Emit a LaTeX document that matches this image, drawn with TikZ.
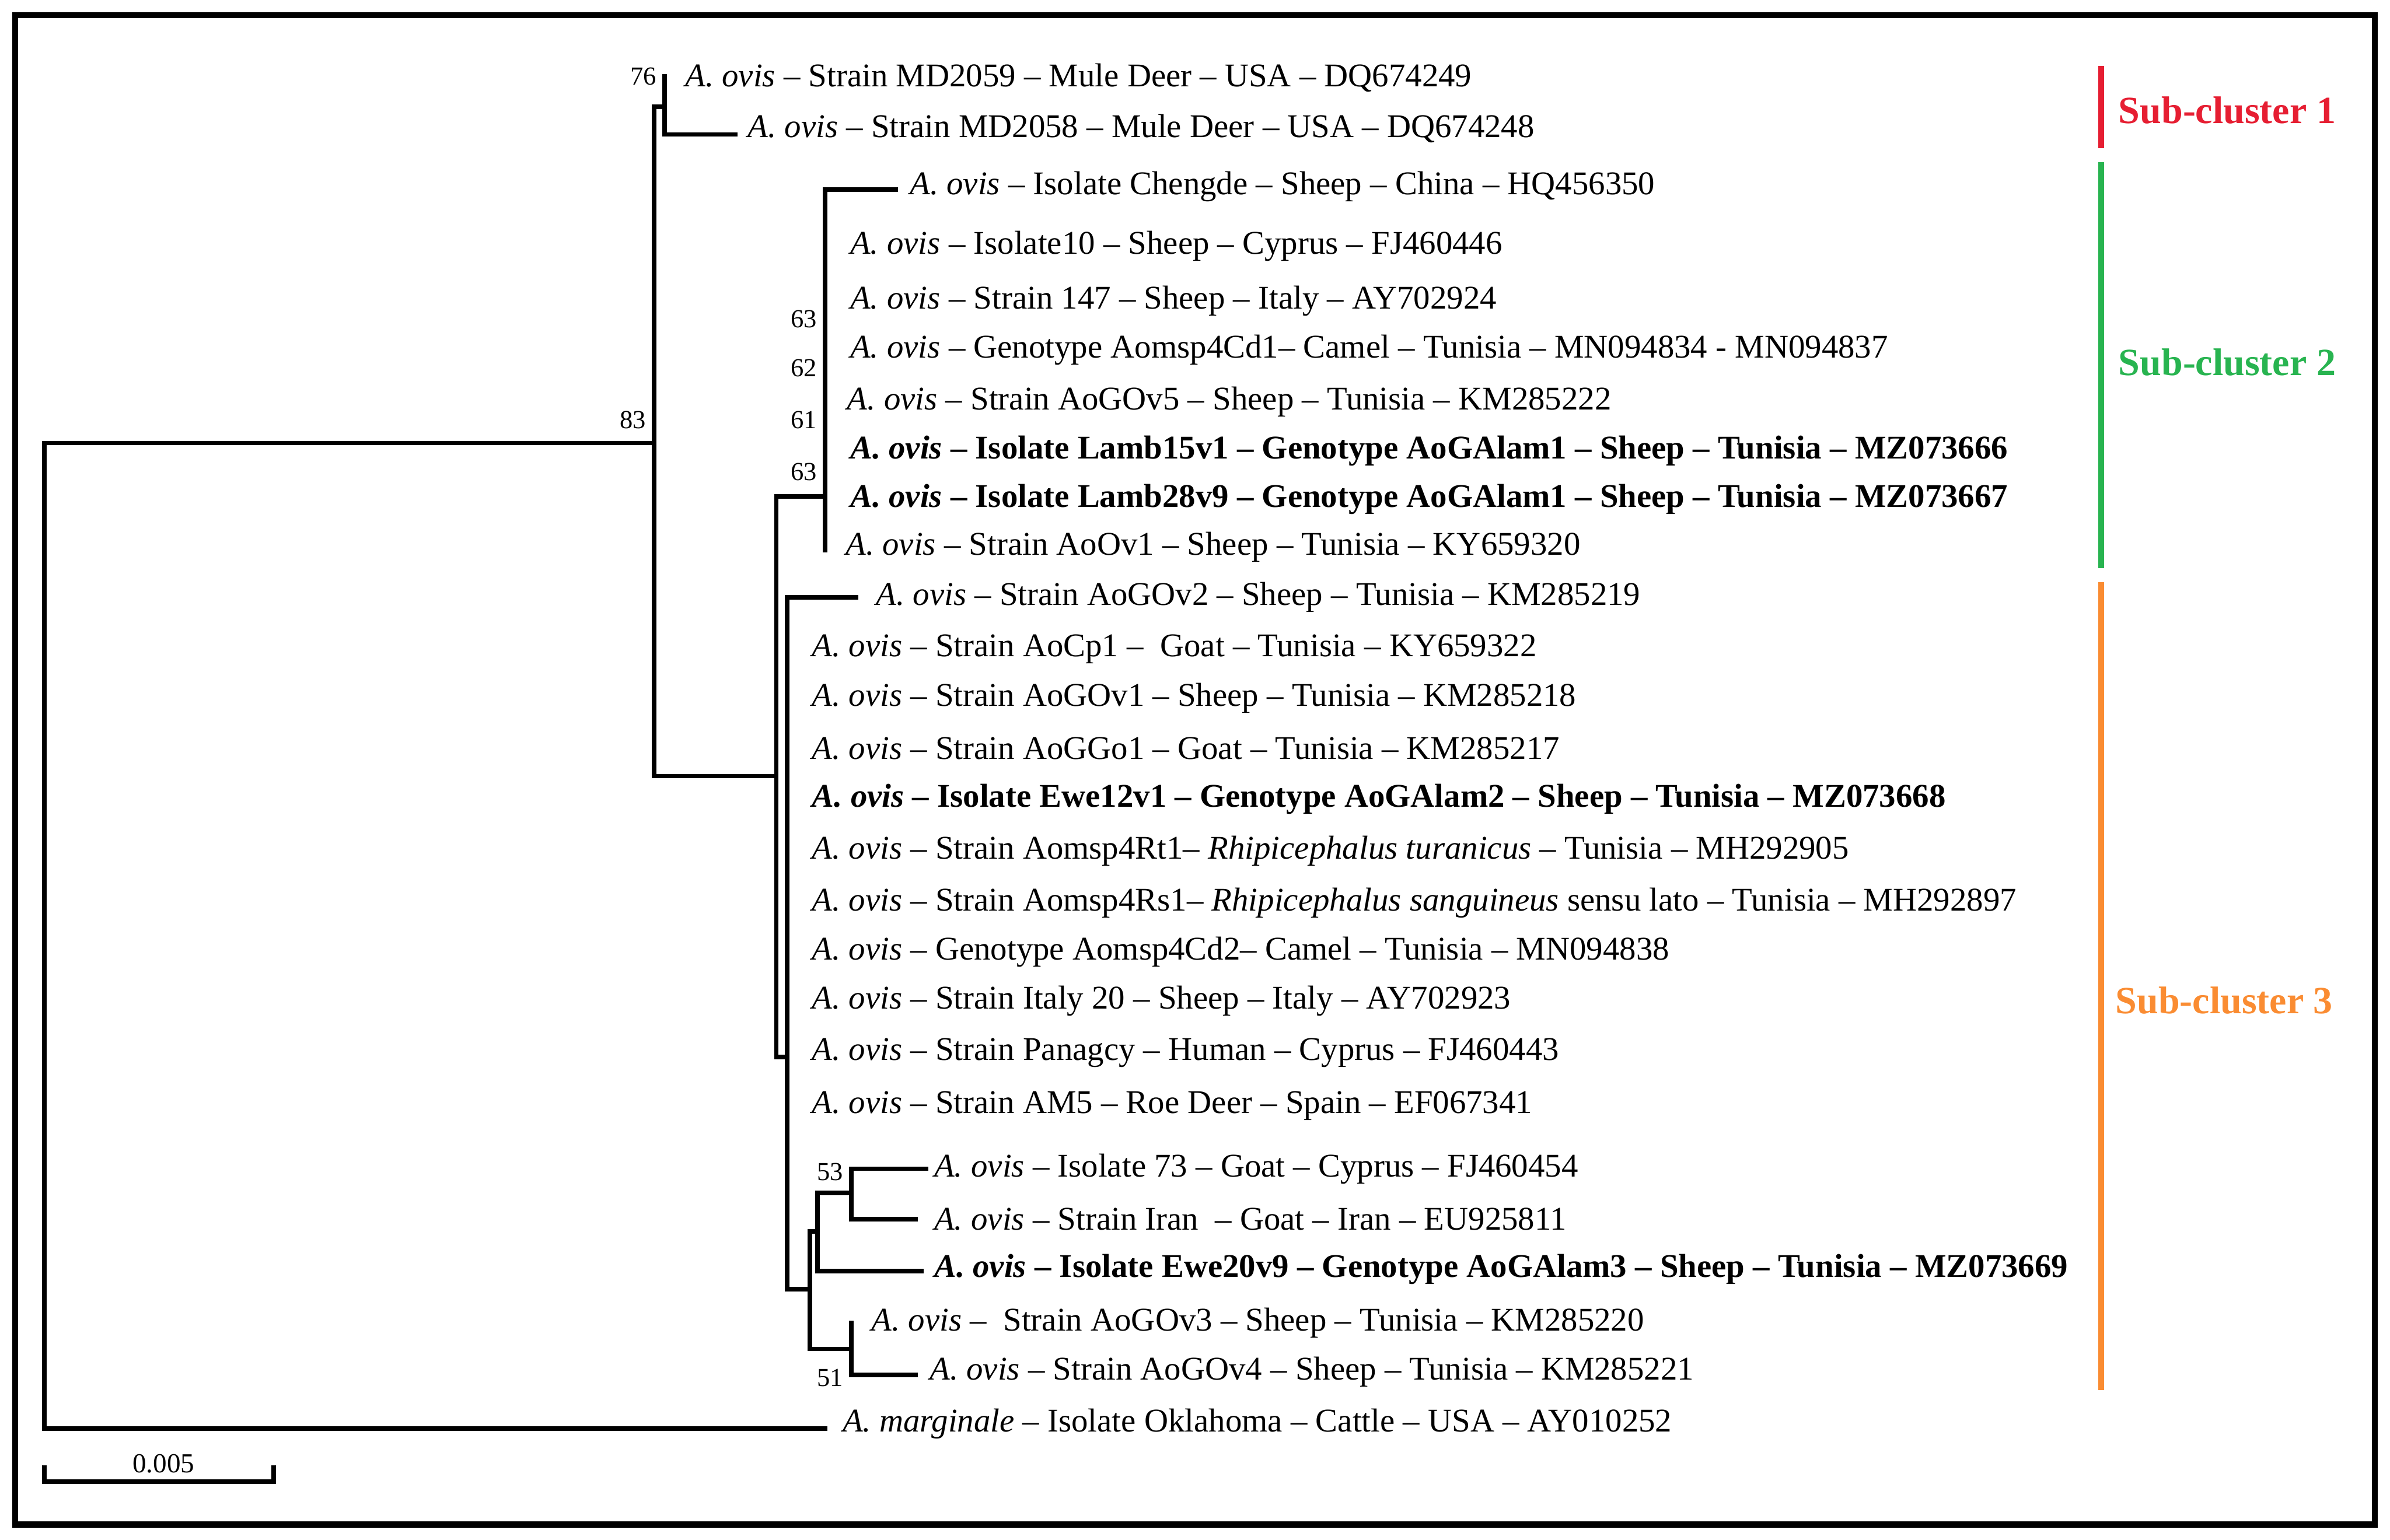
\documentclass[tikz,border=0pt]{standalone}
\usepackage{fontspec}
\setmainfont{Liberation Serif}
\definecolor{cred}{RGB}{230,30,50}
\definecolor{cgreen}{RGB}{40,180,80}
\definecolor{corange}{RGB}{250,140,50}
\newcommand{\ao}{\textit{A. ovis}}
\newcommand{\aob}{\textbf{\textit{A. ovis}}}
\begin{document}
\begin{tikzpicture}[x=0.5pt,y=-0.5pt,
  leaf/.style={anchor=west,inner sep=0pt,font=\fontsize{10.85}{12}\selectfont},
  boot/.style={anchor=east,inner sep=0pt,font=\fontsize{8.5}{10}\selectfont},
  br/.style={line width=1.5pt,line cap=rect},
  sub/.style={anchor=west,inner sep=0pt,font=\fontsize{12.6}{14}\selectfont\bfseries}]
\useasboundingbox (0,0) rectangle (1564,1008);
\draw[line width=2pt] (10,10) rectangle (1554,998);
% leaves
\node[leaf] (l1) at (448,51) {\ao{} -- Strain MD2059 -- Mule Deer -- USA -- DQ674249};
\node[leaf] (l2) at (489,84) {\ao{} -- Strain MD2058 -- Mule Deer -- USA -- DQ674248};
\node[leaf] (l3) at (595,122) {\ao{} -- Isolate Chengde -- Sheep -- China -- HQ456350};
\node[leaf] (l4) at (556,161) {\ao{} -- Isolate10 -- Sheep -- Cyprus -- FJ460446};
\node[leaf] (l5) at (556,197) {\ao{} -- Strain 147 -- Sheep -- Italy -- AY702924};
\node[leaf] (l6) at (556,229) {\ao{} -- Genotype Aomsp4Cd1-- Camel -- Tunisia -- MN094834 - MN094837};
\node[leaf] (l7) at (554,263) {\ao{} -- Strain AoGOv5 -- Sheep -- Tunisia -- KM285222};
\node[leaf] (l8) at (556,295) {\textbf{\aob{} -- Isolate Lamb15v1 -- Genotype AoGAlam1 -- Sheep -- Tunisia -- MZ073666}};
\node[leaf] (l9) at (556,327) {\textbf{\aob{} -- Isolate Lamb28v9 -- Genotype AoGAlam1 -- Sheep -- Tunisia -- MZ073667}};
\node[leaf] (l10) at (553,358) {\ao{} -- Strain AoOv1 -- Sheep -- Tunisia -- KY659320};
\node[leaf] (l11) at (573,391) {\ao{} -- Strain AoGOv2 -- Sheep -- Tunisia -- KM285219};
\node[leaf] (l12) at (531,425) {\ao{} -- Strain AoCp1 --\ \ Goat -- Tunisia -- KY659322};
\node[leaf] (l13) at (531,457) {\ao{} -- Strain AoGOv1 -- Sheep -- Tunisia -- KM285218};
\node[leaf] (l14) at (531,490) {\ao{} -- Strain AoGGo1 -- Goat -- Tunisia -- KM285217};
\node[leaf] (l15) at (531,523) {\textbf{\aob{} -- Isolate Ewe12v1 -- Genotype AoGAlam2 -- Sheep -- Tunisia -- MZ073668}};
\node[leaf] (l16) at (531,557) {\ao{} -- Strain Aomsp4Rt1-- \textit{Rhipicephalus turanicus} -- Tunisia -- MH292905};
\node[leaf] (l17) at (531,591) {\ao{} -- Strain Aomsp4Rs1-- \textit{Rhipicephalus sanguineus} sensu lato -- Tunisia -- MH292897};
\node[leaf] (l18) at (531,623) {\ao{} -- Genotype Aomsp4Cd2-- Camel -- Tunisia -- MN094838};
\node[leaf] (l19) at (531,655) {\ao{} -- Strain Italy 20 -- Sheep -- Italy -- AY702923};
\node[leaf] (l20) at (531,689) {\ao{} -- Strain Panagcy -- Human -- Cyprus -- FJ460443};
\node[leaf] (l21) at (531,724) {\ao{} -- Strain AM5 -- Roe Deer -- Spain -- EF067341};
\node[leaf] (l22) at (611,765) {\ao{} -- Isolate 73 -- Goat -- Cyprus -- FJ460454};
\node[leaf] (l23) at (611,798) {\ao{} -- Strain Iran\ \ -- Goat -- Iran -- EU925811};
\node[leaf] (l24) at (611,831) {\textbf{\aob{} -- Isolate Ewe20v9 -- Genotype AoGAlam3 -- Sheep -- Tunisia -- MZ073669}};
\node[leaf] (l25) at (570,866) {\ao{} --\ \ Strain AoGOv3 -- Sheep -- Tunisia -- KM285220};
\node[leaf] (l26) at (608,898) {\ao{} -- Strain AoGOv4 -- Sheep -- Tunisia -- KM285221};
\node[leaf] (l27) at (551,932) {\textit{A. marginale} -- Isolate Oklahoma -- Cattle -- USA -- AY010252};
% bootstrap
\node[boot] (b76) at (430,50) {76};
\node[boot] (b83) at (423,275) {83};
\node[boot] (b63a) at (535,209) {63};
\node[boot] (b62) at (535,241) {62};
\node[boot] (b61) at (535,275) {61};
\node[boot] (b63b) at (535,309) {63};
\node[boot] (b53) at (552,767) {53};
\node[boot] (b51) at (552,902) {51};
% tree
\draw[br] (29,290) -- (29,935) -- (540,935);
\draw[br] (29,290) -- (428,290);
\draw[br] (428,70) -- (428,508) -- (508,508);
\draw[br] (428,70) -- (435,70);
\draw[br] (435,50) -- (435,88) -- (481,88);
\draw[br] (508,325) -- (508,692) -- (515,692);
\draw[br] (508,325) -- (540,325);
\draw[br] (540,124) -- (540,360);
\draw[br] (540,124) -- (586,124);
\draw[br] (515,391) -- (515,844) -- (530,844);
\draw[br] (515,391) -- (560,391);
\draw[br] (530,806) -- (530,883) -- (557,883);
\draw[br] (530,806) -- (535,806);
\draw[br] (535,781) -- (535,832) -- (603,832);
\draw[br] (535,781) -- (557,781);
\draw[br] (557,765) -- (557,798) -- (599,798);
\draw[br] (557,765) -- (606,765);
\draw[br] (557,866) -- (557,900) -- (599,900);
% scale bar
\draw[br,line cap=butt] (29,959) -- (29,970) -- (179,970) -- (179,959);
\node[inner sep=0pt,font=\fontsize{9}{10}\selectfont] (sc) at (107,958) {0.005};
% subclusters
\draw[cred,line width=2pt] (1375,43) -- (1375,97);
\draw[cgreen,line width=2pt] (1375,106) -- (1375,372);
\draw[corange,line width=2pt] (1375,381) -- (1375,910);
\node[sub,text=cred] (s1) at (1386,72) {Sub-cluster 1};
\node[sub,text=cgreen] (s2) at (1386,237) {Sub-cluster 2};
\node[sub,text=corange] (s3) at (1384,655) {Sub-cluster 3};
\end{tikzpicture}
\end{document}
